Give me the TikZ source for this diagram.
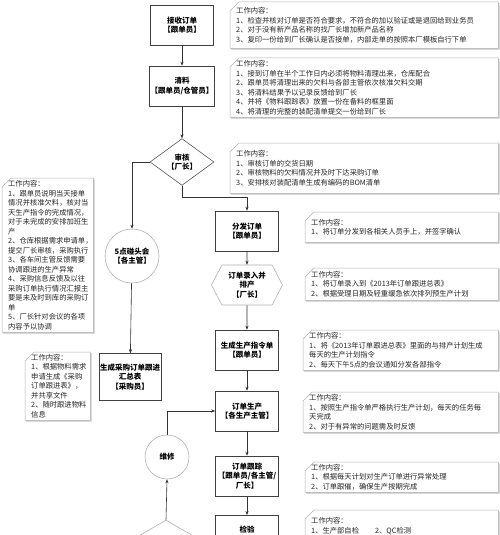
\documentclass[tikz,border=0pt]{standalone}
\usepackage{fontspec}
\setmainfont{Noto Sans CJK SC}
\usetikzlibrary{shapes.geometric, shapes.symbols, arrows.meta, positioning, shadows, backgrounds}
\tikzset{
  stepbox/.style={rectangle, draw=black!75, fill=white, line width=0.6pt, minimum width=63pt, minimum height=40pt, align=center, inner sep=1pt, font=\fontsize{7.5}{9.5}\selectfont\bfseries},
  decision/.style={diamond, draw=black!65, fill=white, line width=0.6pt, minimum width=64pt, minimum height=36pt, inner sep=0pt, align=center, font=\fontsize{7.5}{9.5}\selectfont\bfseries},
  meeting/.style={circle, draw=gray!60, fill=white, line width=0.6pt, inner sep=0pt, align=center, font=\fontsize{7.5}{9.5}\selectfont\bfseries},
  entrybox/.style={signal, signal to=west and east, signal pointer angle=125, draw=gray!60, fill=white, line width=0.6pt, minimum width=71pt, minimum height=40pt, inner sep=0pt, align=center, font=\fontsize{7.5}{9.5}\selectfont\bfseries},
  note/.style={rectangle, anchor=north west, align=left, inner xsep=6pt, inner ysep=2pt, font=\fontsize{7.3}{9.5}\selectfont, text=black!85},
  noteframe/.style={draw=gray!60, fill=white, line width=0.5pt, drop shadow={shadow xshift=1.2pt, shadow yshift=-1.2pt, fill=gray!45, opacity=1}},
  arrow/.style={-{Stealth[length=4pt, width=3.2pt]}, line width=0.6pt, draw=black!80},
}

\begin{document}
\begin{tikzpicture}[x=1pt, y=-1pt]
\useasboundingbox (0,0) rectangle (500,535);
% main column
\node[stepbox] (recv) at (182,25) {接收订单\\【跟单员】};
\node[stepbox] (clear) at (182,86) {清料\\【跟单员/仓管员】};
\node[decision] (audit) at (182,162) {审核\\【厂长】};
\node[meeting, minimum size=54pt] (meet) at (132,256) {5点碰头会\\【各主管】};
\node[stepbox, minimum width=62pt, minimum height=47pt] (purchase) at (130,377) {生成采购订单跟进\\汇总表\\【采购员】};
\node[stepbox] (dispatch) at (247,231) {分发订单\\【跟单员】};
\node[entrybox] (entry) at (247,285) {订单录入并\\排产\\【厂长】};
\node[stepbox] (instr) at (247,350) {生成生产指令单\\【跟单员】};
\node[stepbox] (prod) at (247,411) {订单生产\\【各生产主管】};
\node[meeting, minimum size=44pt] (repair) at (167,457) {维修};
\node[stepbox] (track) at (247,476) {订单跟踪\\【跟单员/各主管/\\厂长】};
\node[stepbox, anchor=north, minimum height=28pt] (inspect) at (247,515) {检验};
\node[decision, draw=gray!60, minimum width=120pt, minimum height=70pt] (check) at (166,555) {};

% notes
\node[note, text width=256pt, minimum height=46pt] (n-recv) at (230,2) {工作内容：\\
  1、检查并核对订单是否符合要求，不符合的加以验证或是退回给到业务员\\
  2、对于没有新产品名称的找厂长增加新产品名称\\
  3、复印一份给到厂长确认是否接单，内部走单的按照本厂模板自行下单};
\node[note, text width=256pt, minimum height=59pt] (n-clear) at (230,58) {工作内容：\\
  1、接到订单在半个工作日内必须将物料清理出来，仓库配合\\
  2、跟单员将清理出来的欠料与各部主管依次核准欠料交期\\
  3、将清料结果予以记录反馈给到厂长\\
  4、并将《物料跟踪表》放置一份在备料的框里面\\
  4、将清理的完整的装配清单提交一份给到厂长};
\node[note, text width=256pt, minimum height=50pt] (n-audit) at (230,143) {工作内容：\\
  1、审核订单的交货日期\\
  2、审核物料的欠料情况并及时下达采购订单\\
  3、安排核对装配清单生成有编码的BOM清单};
\node[note, text width=181pt, minimum height=30pt] (n-dispatch) at (305,212) {工作内容：\\
  1、将订单分发到各相关人员手上，并签字确认};
\node[note, text width=181pt, minimum height=32pt] (n-entry) at (305,268) {工作内容：\\
  1、将订单录入到《2013年订单跟进总表》\\
  2、根据受理日期及轻重缓急依次排列预生产计划};
\node[note, text width=183pt, minimum height=40pt] (n-instr) at (303,330) {工作内容：\\
  1、将《2013年订单跟进总表》里面的与排产计划生成\\
  每天的生产计划指令\\
  2、每天下午5点的会议通知分发各部指令};
\node[note, text width=183pt, minimum height=40pt] (n-prod) at (303,392) {工作内容：\\
  1、按照生产指令单严格执行生产计划，每天的任务每\\
  天完成\\
  2、对于有异常的问题需及时反馈};
\node[note, text width=181pt, minimum height=30pt] (n-track) at (305,462) {工作内容：\\
  1、根据每天计划对生产订单进行异常处理\\
  2、订单跟催，确保生产按期完成};
\node[note, text width=181pt, minimum height=40pt] (n-inspect) at (305,510) {工作内容：\\
  1、生产部自检\hspace{2.2em}2、QC检测\\ \mbox{}};
\node[note, text width=79pt, minimum height=154pt] (n-meet) at (2,178) {工作内容：\\
  1、跟单员说明当天接单\\情况并核准欠料，核对当\\天生产指令的完成情况，\\对于未完成的安排加班生\\产\\
  2、仓库根据需求申请单，\\提交厂长审核，采购执行\\
  3、各车间主管反馈需要\\协调跟进的生产异常\\
  4、采购信息反馈及以往\\采购订单执行情况汇报主\\要是未及时到库的采购订\\单\\
  5、厂长针对会议的各项\\内容予以协调};
\node[note, text width=53pt, minimum height=68pt] (n-purchase) at (25,352) {工作内容：\\
  1、根据物料需求\\申请生成《采购\\订单跟进表》，\\并共享文件\\
  2、随时跟进物料\\信息};

% note frames with cut corner, behind the text
\begin{scope}[on background layer]
\fill[white] (0,0) rectangle (500,535);
\foreach \n in {n-recv, n-clear, n-audit, n-dispatch, n-entry, n-instr, n-prod, n-track, n-inspect, n-meet, n-purchase}
  \draw[noteframe] ([yshift=-9pt]\n.north west) -- ([xshift=9pt]\n.north west) -- (\n.north east) -- (\n.south east) -- (\n.south west) -- cycle;
\end{scope}

% connectors
\draw[arrow] (recv) -- (clear);
\draw[arrow] (clear) -- (audit);
\draw[arrow] (audit.west) -| (meet.north);
\draw[arrow] (audit.south) -- ++(0,12) -| (dispatch.north);
\draw[arrow] (meet) -- (purchase);
\draw[arrow] (dispatch) -- (entry);
\draw[arrow] (entry) -- (instr);
\draw[arrow] (instr) -- (prod);
\draw[arrow] (prod) -- (track);
\draw[arrow] (track) -- (inspect);
\draw[arrow] (check.north) -- (repair.south);
\draw[arrow] (repair.north) |- (prod.west);
\end{tikzpicture}
\end{document}
